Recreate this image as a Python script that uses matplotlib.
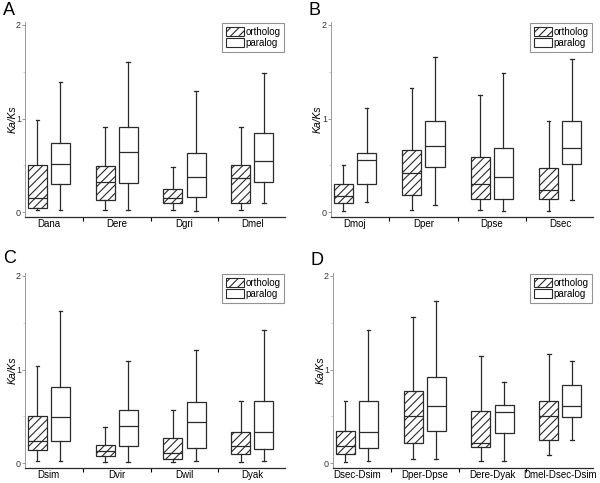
import matplotlib
matplotlib.use("Agg")
import matplotlib.pyplot as plt
from matplotlib.patches import Patch

plt.rcParams['font.family'] = ['Liberation Sans', 'DejaVu Sans']
plt.rcParams['hatch.color'] = '#555555'
plt.rcParams['hatch.linewidth'] = 0.8

# box stats: [whisker low, Q1, median, Q3, whisker high]
cats_A = ['Dana', 'Dere', 'Dgri', 'Dmel']
ortho_A = [[0.03, 0.05, 0.15, 0.51, 0.98],
           [0.02, 0.13, 0.32, 0.49, 0.91],
           [0.02, 0.10, 0.15, 0.25, 0.48],
           [0.02, 0.10, 0.37, 0.51, 0.91]]
para_A = [[0.03, 0.30, 0.52, 0.74, 1.39],
          [0.02, 0.31, 0.64, 0.91, 1.60],
          [0.01, 0.16, 0.38, 0.63, 1.29],
          [0.10, 0.32, 0.55, 0.85, 1.49]]

cats_B = ['Dmoj', 'Dper', 'Dpse', 'Dsec']
ortho_B = [[0.01, 0.10, 0.17, 0.30, 0.50],
           [0.02, 0.18, 0.42, 0.67, 1.33],
           [0.02, 0.14, 0.30, 0.59, 1.25],
           [0.01, 0.14, 0.24, 0.47, 0.97]]
para_B = [[0.11, 0.30, 0.56, 0.63, 1.11],
          [0.08, 0.48, 0.71, 0.97, 1.66],
          [0.01, 0.14, 0.38, 0.69, 1.49],
          [0.13, 0.52, 0.69, 0.97, 1.64]]

cats_C = ['Dsim', 'Dvir', 'Dwil', 'Dyak']
ortho_C = [[0.02, 0.14, 0.24, 0.51, 1.04],
           [0.01, 0.08, 0.13, 0.20, 0.39],
           [0.01, 0.05, 0.11, 0.27, 0.57],
           [0.01, 0.10, 0.18, 0.33, 0.66]]
para_C = [[0.02, 0.24, 0.49, 0.81, 1.63],
          [0.01, 0.19, 0.40, 0.57, 1.09],
          [0.02, 0.16, 0.44, 0.65, 1.21],
          [0.02, 0.15, 0.33, 0.66, 1.42]]

cats_D = ['Dsec-Dsim', 'Dper-Dpse', 'Dere-Dyak', 'Dmel-Dsec-Dsim']
ortho_D = [[0.01, 0.10, 0.18, 0.34, 0.67],
           [0.05, 0.22, 0.50, 0.77, 1.56],
           [0.02, 0.17, 0.22, 0.56, 1.14],
           [0.09, 0.25, 0.51, 0.67, 1.17]]
para_D = [[0.02, 0.16, 0.33, 0.67, 1.42],
          [0.05, 0.34, 0.61, 0.92, 1.73],
          [0.02, 0.32, 0.55, 0.62, 0.87],
          [0.25, 0.49, 0.61, 0.84, 1.09]]

panels = [('A', cats_A, ortho_A, para_A),
          ('B', cats_B, ortho_B, para_B),
          ('C', cats_C, ortho_C, para_C),
          ('D', cats_D, ortho_D, para_D)]

# axes rectangles in figure fractions (600 x 483 px)
rects = [[25/600, 1-217/483, 260/600, 195/483],
         [331/600, 1-217/483, 262/600, 195/483],
         [25/600, 1-468/483, 260/600, 195/483],
         [333/600, 1-468/483, 260/600, 195/483]]
# panel letters: (x, baseline y) in pixels
letter_pos = [(3, 15), (309, 15), (3, 263), (310, 265)]

line_col = '#2a2a2a'


def to_stats(rows):
    out = []
    for lo, q1, med, q3, hi in rows:
        out.append(dict(whislo=lo, q1=q1, med=med, q3=q3, whishi=hi, fliers=[]))
    return out


fig = plt.figure(figsize=(6, 4.83), dpi=100)

for (letter, cats, ortho, para), rect, lp in zip(panels, rects, letter_pos):
    ax = fig.add_axes(rect)
    pos = range(1, len(cats) + 1)
    props = dict(color=line_col, linewidth=0.9)
    ax.bxp(to_stats(ortho), positions=[p - 0.17 for p in pos], widths=0.28,
           patch_artist=True, showfliers=False, capwidths=0.05,
           boxprops=dict(facecolor='white', edgecolor=line_col, linewidth=0.9, hatch='////'),
           medianprops=props, whiskerprops=props, capprops=props)
    ax.bxp(to_stats(para), positions=[p + 0.17 for p in pos], widths=0.28,
           patch_artist=True, showfliers=False, capwidths=0.05,
           boxprops=dict(facecolor='white', edgecolor=line_col, linewidth=0.9),
           medianprops=props, whiskerprops=props, capprops=props)

    ax.set_xlim(0.65, 4.48)
    ax.set_ylim(-0.05, 2.03)
    ax.set_xticks([1.5, 2.5, 3.5])
    ax.set_xticklabels([])
    ax.set_xticks(list(pos), minor=True)
    ax.set_xticklabels(cats, minor=True, fontsize=7)
    ax.tick_params(axis='x', which='minor', length=0, pad=1.5)
    ax.tick_params(axis='x', which='major', length=3, width=0.8, direction='out')
    ax.set_yticks([0, 1, 2])
    ax.set_yticklabels(['0', '1', '2'], fontsize=6.5, color='#333333')
    ax.set_yticks([0.5, 1.5], minor=True)
    ax.tick_params(axis='y', which='major', length=2.5, width=0.6, color='#888888', pad=0.5)
    ax.tick_params(axis='y', which='minor', length=1.5, width=0.5, color='#bbbbbb')
    for s in ['top', 'right']:
        ax.spines[s].set_visible(False)
    ax.spines['left'].set_color('#999999')
    ax.spines['left'].set_linewidth(0.7)
    ax.spines['bottom'].set_color(line_col)
    ax.spines['bottom'].set_linewidth(0.9)
    ax.set_ylabel('Ka/Ks', fontsize=7.5, style='italic')
    ax.yaxis.set_label_coords(-0.03, 0.5)

    handles = [Patch(facecolor='white', edgecolor=line_col, hatch='////', linewidth=0.8),
               Patch(facecolor='white', edgecolor=line_col, linewidth=0.8)]
    leg = ax.legend(handles, ['ortholog', 'paralog'], loc='upper right',
                    bbox_to_anchor=(1.0, 1.0), fontsize=7, fancybox=False,
                    handlelength=1.8, handleheight=0.9, handletextpad=0.15,
                    labelspacing=0.1, borderpad=0.4, borderaxespad=0.1)
    leg.get_frame().set_edgecolor('#777777')
    leg.get_frame().set_linewidth(0.8)

    fig.text(lp[0] / 600, 1 - lp[1] / 483, letter, fontsize=13, va='baseline')

fig.savefig('out.png', dpi=100)
